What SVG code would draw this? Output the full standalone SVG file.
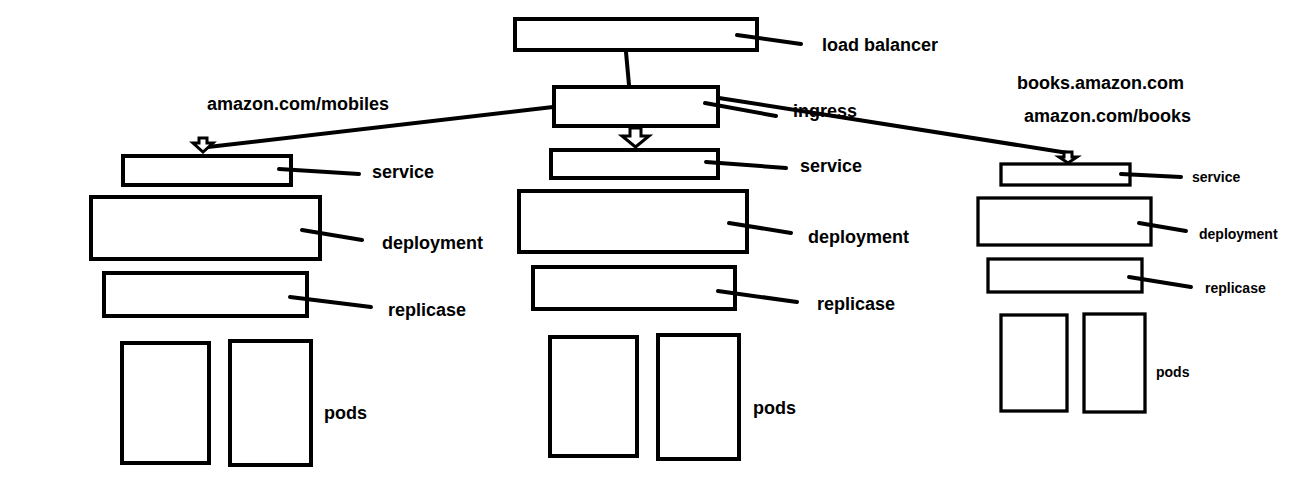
<svg xmlns="http://www.w3.org/2000/svg" width="1298" height="490" viewBox="0 0 1298 490">
<style>
.box{fill:#fff;stroke:#000;stroke-width:4}
.sm{stroke-width:3.3}
.ln{stroke:#000;stroke-width:4;stroke-linecap:round;fill:none}
.arr{fill:#fff;stroke:#000;stroke-width:3;stroke-linejoin:miter}
text{font-family:"Liberation Sans",Arial,sans-serif;font-weight:bold;fill:#000}
.big{font-size:18px}
.small{font-size:14px}
</style>
<rect width="1298" height="490" fill="#fff"/>
<g id="connectors">
<line class="ln" x1="626" y1="52" x2="629" y2="85"/>
<line class="ln" x1="553" y1="107" x2="208" y2="147"/>
<line class="ln" x1="719" y1="98" x2="1068" y2="153"/>
<path class="arr" d="M199,138 H207 V143 H213 L203,152 L193,143 H199 Z"/>
<path class="arr" d="M630,128 H641 V136 H649 L635.5,147 L622,136 H630 Z"/>
<path class="arr" d="M1064,152 H1072 V157 H1077 L1068,163 L1059,157 H1064 Z"/>
</g>
<g id="load-balancer">
<rect class="box" x="515" y="19" width="242" height="31"/>
<line class="ln" x1="737" y1="35" x2="801" y2="44"/>
<text class="big" x="822" y="51">load balancer</text>
</g>
<g id="ingress">
<rect class="box" x="554" y="87" width="164" height="39"/>
<line class="ln" x1="705" y1="103" x2="776" y2="116"/>
<text class="big" x="793" y="117">ingress</text>
</g>
<g id="route-mobiles">
<text class="big" x="207" y="110">amazon.com/mobiles</text>
</g>
<g id="route-books">
<text class="big" x="1017" y="89">books.amazon.com</text>
<text class="big" x="1024" y="122">amazon.com/books</text>
</g>
<g id="left-service">
<rect class="box" x="123" y="156" width="168" height="29"/>
<line class="ln" x1="279" y1="169" x2="359" y2="174"/>
<text class="big" x="372" y="178">service</text>
</g>
<g id="left-deployment">
<rect class="box" x="91" y="197" width="229" height="62"/>
<line class="ln" x1="302" y1="230" x2="362" y2="240"/>
<text class="big" x="382" y="249">deployment</text>
</g>
<g id="left-replicaset">
<rect class="box" x="104" y="273" width="203" height="43"/>
<line class="ln" x1="290" y1="297" x2="371" y2="307"/>
<text class="big" x="388" y="316">replicase</text>
</g>
<g id="left-pods">
<rect class="box" x="122" y="343" width="87" height="120"/>
<rect class="box" x="230" y="341" width="81" height="124"/>
<text class="big" x="324" y="419">pods</text>
</g>
<g id="mid-service">
<rect class="box" x="551" y="150" width="167" height="28"/>
<line class="ln" x1="706" y1="162" x2="786" y2="168"/>
<text class="big" x="800" y="172">service</text>
</g>
<g id="mid-deployment">
<rect class="box" x="519" y="191" width="228" height="61"/>
<line class="ln" x1="729" y1="223" x2="791" y2="233"/>
<text class="big" x="808" y="243">deployment</text>
</g>
<g id="mid-replicaset">
<rect class="box" x="533" y="267" width="202" height="42"/>
<line class="ln" x1="718" y1="291" x2="797" y2="302"/>
<text class="big" x="817" y="310">replicase</text>
</g>
<g id="mid-pods">
<rect class="box" x="550" y="337" width="87" height="119"/>
<rect class="box" x="658" y="335" width="81" height="124"/>
<text class="big" x="753" y="414">pods</text>
</g>
<g id="right-service">
<rect class="box sm" x="1001" y="164" width="129" height="21"/>
<line class="ln" x1="1121" y1="174" x2="1181" y2="177"/>
<text class="small" x="1192" y="182">service</text>
</g>
<g id="right-deployment">
<rect class="box sm" x="978" y="198" width="173" height="47"/>
<line class="ln" x1="1139" y1="223" x2="1186" y2="231"/>
<text class="small" x="1199" y="239">deployment</text>
</g>
<g id="right-replicaset">
<rect class="box sm" x="988" y="259" width="154" height="33"/>
<line class="ln" x1="1129" y1="277" x2="1191" y2="287"/>
<text class="small" x="1205" y="293">replicase</text>
</g>
<g id="right-pods">
<rect class="box sm" x="1001" y="315" width="66" height="96"/>
<rect class="box sm" x="1084" y="314" width="61" height="98"/>
<text class="small" x="1156" y="377">pods</text>
</g>
</svg>
